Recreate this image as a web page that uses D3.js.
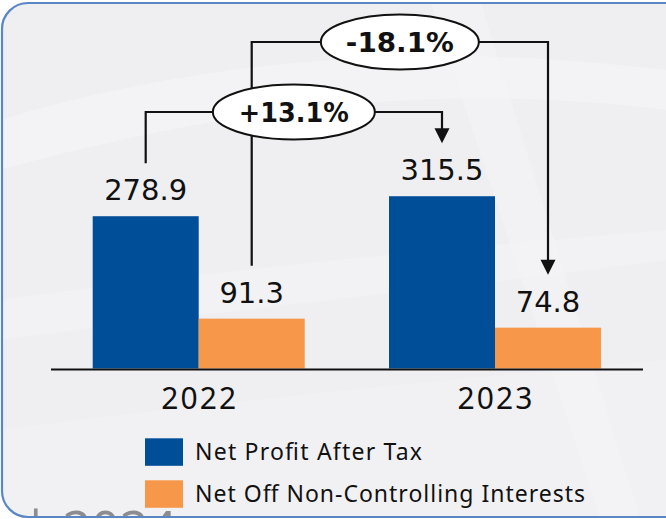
<!DOCTYPE html>
<html>
<head>
<meta charset="utf-8">
<script src="https://cdn.jsdelivr.net/npm/d3@7/dist/d3.min.js"></script>
<style>
  html, body { margin: 0; padding: 0; background: #ffffff; }
  svg { display: block; }
</style>
</head>
<body>
<svg id="chart" width="666" height="519"></svg>
<script>
// ---- data ----
const years = ["2022", "2023"];
const seriesNames = ["Net Profit After Tax", "Net Off Non-Controlling Interests"];
const netProfit = [278.9, 315.5];
const nonControlling = [91.3, 74.8];
const changeLabels = ["+13.1%", "-18.1%"]; // change of each series 2022 -> 2023
const seriesColors = ["#004d98", "#f7974a"];

const seriesValues = [netProfit, nonControlling];

const svg = d3.select("#chart");
const W = 666, H = 519;

// ---- background ----
const defs = svg.append("defs");
defs.append("clipPath").attr("id", "boxclip")
  .append("rect").attr("x", 2).attr("y", 3).attr("width", 720).attr("height", 514).attr("rx", 26);

const bg = svg.append("g").attr("clip-path", "url(#boxclip)");
bg.append("rect").attr("x", 0).attr("y", 0).attr("width", W).attr("height", H).attr("fill", "#efeff2");
// subtle light swooshes
bg.append("path").attr("d", "M0,120 C200,60 420,40 666,70 L666,110 C430,80 220,110 0,170 Z").attr("fill", "#f3f3f6");
bg.append("path").attr("d", "M0,300 C220,270 430,250 666,230 L666,260 C440,290 220,310 0,340 Z").attr("fill", "#f2f2f5");
bg.append("path").attr("d", "M0,430 C230,400 450,380 666,360 L666,520 L0,520 Z").attr("fill", "#f1f1f4");
bg.append("path").attr("d", "M430,0 L480,0 L640,519 L600,519 Z").attr("fill", "#f3f3f6").attr("opacity", 0.7);
bg.append("text").attr("x", 22).attr("y", 546)
  .attr("font-family", "'Noto Sans', sans-serif").attr("font-size", 50)
  .attr("fill", "#8d8d8f").text("| 2024");

// ---- scales ----
const x0 = d3.scaleBand().domain(years).range([92.7, 601]).paddingInner(0.2845).paddingOuter(0);
const x1 = d3.scaleBand().domain(d3.range(seriesNames.length)).range([0, x0.bandwidth()]).padding(0);
const y = d3.scaleLinear().domain([0, 350]).range([368.5, 177.4]);

const barX = (yi, si) => x0(years[yi]) + x1(si);
const barC = (yi, si) => barX(yi, si) + x1.bandwidth() / 2;

// ---- bars ----
const cells = [];
years.forEach((yr, yi) => seriesNames.forEach((s, si) => cells.push({ yi, si, v: seriesValues[si][yi] })));

svg.append("g").selectAll("rect").data(cells).join("rect")
  .attr("x", d => barX(d.yi, d.si))
  .attr("y", d => y(d.v))
  .attr("width", x1.bandwidth())
  .attr("height", d => y(0) - y(d.v))
  .attr("fill", d => seriesColors[d.si]);

// value labels
svg.append("g").selectAll("text").data(cells).join("text")
  .attr("x", d => barC(d.yi, d.si))
  .attr("y", d => y(d.v) - 16)
  .attr("text-anchor", "middle")
  .attr("font-family", "'DejaVu Sans', sans-serif")
  .attr("font-size", 29)
  .attr("fill", "#111")
  .text(d => d.v.toFixed(1));

// baseline
svg.append("line").attr("x1", 51).attr("x2", 643).attr("y1", y(0) + 1).attr("y2", y(0) + 1)
  .attr("stroke", "#111").attr("stroke-width", 2);

// year axis labels
const xAxis = d3.axisBottom(x0).tickSize(0).tickPadding(0);
const ax = svg.append("g").attr("transform", `translate(0,${y(0)})`).call(xAxis);
ax.select(".domain").remove();
ax.selectAll("text")
  .attr("dy", 0).attr("y", 40)
  .attr("font-family", "'Noto Sans', sans-serif")
  .attr("font-size", 30)
  .attr("fill", "#111")
  .attr("textLength", 75)
  .attr("lengthAdjust", "spacing");

// ---- change annotations ----
const levels = [112, 42];
const gap = 53;
const ann = svg.append("g");
// draw the outer (-18.1%) first so the inner ellipse sits on top of its vertical line
[1, 0].forEach(si => {
  const xs = barC(0, si), ys = y(seriesValues[si][0]) - gap;
  const xe = barC(1, si), ye = y(seriesValues[si][1]) - gap;
  const ly = levels[si];
  ann.append("path")
    .attr("d", `M${xs},${ys} V${ly} H${xe} V${ye - 14}`)
    .attr("fill", "none").attr("stroke", "#111").attr("stroke-width", 2.2);
  ann.append("path")
    .attr("d", `M${xe - 7.5},${ye - 15} L${xe + 7.5},${ye - 15} L${xe},${ye} Z`)
    .attr("fill", "#111");
});
[1, 0].forEach(si => {
  const cx = (barC(0, si) + barC(1, si)) / 2;
  const ly = levels[si];
  ann.append("ellipse").attr("cx", cx).attr("cy", ly).attr("rx", si === 0 ? 81 : 79).attr("ry", 27.5)
    .attr("fill", "#fff").attr("stroke", "#111").attr("stroke-width", 2);
  ann.append("text").attr("x", cx).attr("y", ly + 9.5)
    .attr("text-anchor", "middle")
    .attr("font-family", "'DejaVu Sans', sans-serif")
    .attr("font-weight", "bold")
    .attr("font-size", 26)
    .attr("fill", "#111")
    .attr("textLength", si === 0 ? 110 : 108)
    .attr("lengthAdjust", "spacingAndGlyphs")
    .text(changeLabels[si]);
});

// ---- legend ----
const legend = svg.append("g");
const legendTextLen = [227, 390];
seriesNames.forEach((name, i) => {
  const top = 438.3 + i * 42;
  legend.append("rect").attr("x", 145).attr("y", top).attr("width", 38).attr("height", 27.5)
    .attr("fill", seriesColors[i]);
  legend.append("text").attr("x", 195).attr("y", top + 21.2)
    .attr("font-family", "'Noto Sans', sans-serif")
    .attr("font-size", 23)
    .attr("fill", "#111")
    .attr("textLength", legendTextLen[i])
    .attr("lengthAdjust", "spacing")
    .text(name);
});

// ---- border (on top) ----
svg.append("rect").attr("x", 2).attr("y", 3).attr("width", 720).attr("height", 514).attr("rx", 26)
  .attr("fill", "none").attr("stroke", "#5a86c4").attr("stroke-width", 2.2);
</script>
</body>
</html>
